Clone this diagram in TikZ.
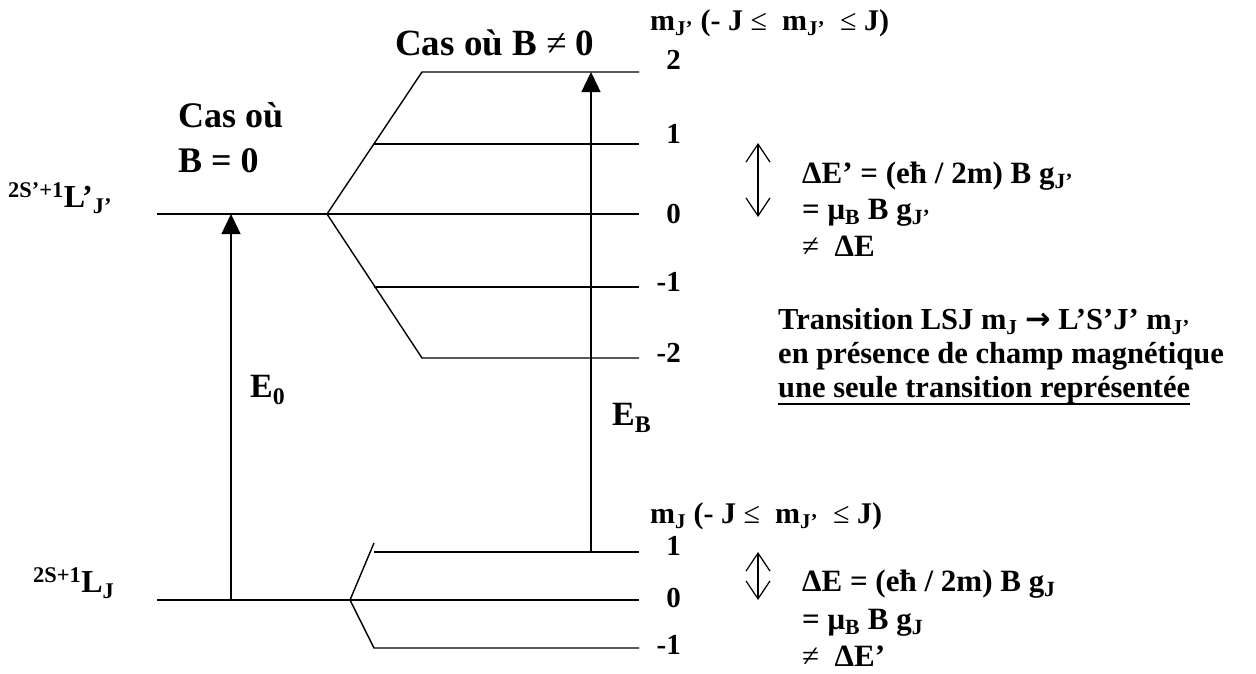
\documentclass[tikz,border=0pt]{standalone}
\usepackage{fontspec}
\setmainfont{Liberation Serif}
\newfontfamily\symfont{DejaVu Sans}
\usetikzlibrary{arrows.meta}
\begin{document}
\begin{tikzpicture}[x=1pt,y=-1pt,
  lvl/.style={line width=1.4pt},
  uparrow/.style={line width=1.4pt,-{Triangle[length=20pt,width=19pt]}},
  dblarrow/.style={line width=1.2pt,{Straight Barb[length=18pt,width=24pt]}-{Straight Barb[length=18pt,width=24pt]}},
  txt/.style={inner sep=0pt,anchor=base west,font=\bfseries},
  num/.style={inner sep=0pt,anchor=east,font=\bfseries\fontsize{29}{32}\selectfont},
  body/.style={txt,font=\bfseries\fontsize{31}{34}\selectfont},
  trans/.style={txt,font=\bfseries\fontsize{30.5}{34}\selectfont},
]
\useasboundingbox (0,0) rectangle (1256,673);

% upper term (J')
\coordinate (u0L) at (157,214);
\coordinate (uV) at (327,214);
\coordinate (u0R) at (639,214);
\coordinate (u2L) at (422,72);
\coordinate (u2R) at (639,72);
\coordinate (u1L) at (374,144);
\coordinate (u1R) at (639,144);
\coordinate (um1L) at (374,287);
\coordinate (um1R) at (639,287);
\coordinate (um2L) at (422,358);
\coordinate (um2R) at (639,358);
\draw[lvl] (u0L) -- (u0R);
\draw[lvl] (uV) -- (u2L) -- (u2R);
\draw[lvl] (uV) -- (um2L) -- (um2R);
\draw[lvl] (u1L) -- (u1R);
\draw[lvl] (um1L) -- (um1R);

% lower term (J)
\coordinate (l0L) at (157,600);
\coordinate (lV) at (350,600);
\coordinate (l0R) at (639,600);
\coordinate (lTop) at (374,543);
\coordinate (l1L) at (374,552);
\coordinate (l1R) at (639,552);
\coordinate (lm1L) at (374,648);
\coordinate (lm1R) at (639,648);
\draw[lvl] (l0L) -- (l0R);
\draw[lvl] (lV) -- (lTop);
\draw[lvl] (l1L) -- (l1R);
\draw[lvl] (lV) -- (lm1L) -- (lm1R);

% transitions
\coordinate (e0a) at (231,600);
\coordinate (e0b) at (231,214);
\coordinate (eBa) at (591,552);
\coordinate (eBb) at (591,72);
\draw[uparrow] (e0a) -- (e0b);
\draw[uparrow] (eBa) -- (eBb);

% splitting double arrows
\coordinate (d1a) at (758,143);
\coordinate (d1b) at (758,217);
\coordinate (d2a) at (758,552);
\coordinate (d2b) at (758,600);
\draw[dblarrow] (d1a) -- (d1b);
\draw[dblarrow] (d2a) -- (d2b);

% titles
\node[txt,font=\bfseries\fontsize{37}{40}\selectfont] (casB) at (395,55) {Cas où B {\mdseries ≠} 0};
\node[txt,font=\bfseries\fontsize{36}{40}\selectfont] (cas1) at (178,127) {Cas où};
\node[txt,font=\bfseries\fontsize{36}{40}\selectfont] (cas2) at (178,172) {B = 0};

% term labels
\node[txt,font=\bfseries\fontsize{32}{36}\selectfont] (Lup) at (8,207) {\textsuperscript{2S’+1}L’\textsubscript{J’}};
\node[txt,font=\bfseries\fontsize{32}{36}\selectfont] (Llow) at (33,592) {\textsuperscript{2S+1}L\textsubscript{J}};

% energies
\node[txt,font=\bfseries\fontsize{34}{38}\selectfont] (E0) at (250,397) {E\textsubscript{0}};
\node[txt,font=\bfseries\fontsize{34}{38}\selectfont] (EB) at (612,425) {E\textsubscript{B}};

% mJ headers
\node[txt,font=\bfseries\fontsize{30}{34}\selectfont] (mJup) at (650,30) {m\textsubscript{J’} (- J {\mdseries ≤}\ \ m\textsubscript{J’}\ \ {\mdseries ≤} J)};
\node[txt,font=\bfseries\fontsize{30}{34}\selectfont] (mJlow) at (650,523) {m\textsubscript{J} (- J {\mdseries ≤}\ \ m\textsubscript{J’}\ \ {\mdseries ≤} J)};

% sublevel numbers
\node[num] (n2) at (681,60) {2};
\node[num] (n1) at (681,134) {1};
\node[num] (n0) at (681,214) {0};
\node[num] (nm1) at (681,282) {-1};
\node[num] (nm2) at (681,353) {-2};
\node[num] (l1) at (681,546) {1};
\node[num] (l0) at (681,598) {0};
\node[num] (lm1) at (681,645) {-1};

% splitting formulas
\node[body] (dEu1) at (802,183) {ΔE’ = (eħ / 2m) B g\textsubscript{J’}};
\node[body] (dEu2) at (802,219) {= μ\textsubscript{B} B g\textsubscript{J’}};
\node[body] (dEu3) at (802,256) {{\mdseries ≠} \ ΔE};
\node[body] (dEl1) at (802,591) {ΔE = (eħ / 2m) B g\textsubscript{J}};
\node[body] (dEl2) at (802,629) {= μ\textsubscript{B} B g\textsubscript{J}};
\node[body] (dEl3) at (802,666) {{\mdseries ≠} \ ΔE’};

% transition description
\node[trans] (t1) at (778,329) {Transition LSJ m\textsubscript{J} {\symfont\bfseries →} L’S’J’ m\textsubscript{J’}};
\node[trans] (t2) at (778,363) {en présence de champ magnétique};
\node[trans] (t3) at (778,397) {une seule transition représentée};
\draw[line width=2pt] ([yshift=-7pt]t3.base west) -- ([yshift=-7pt]t3.base east);
\end{tikzpicture}
\end{document}
